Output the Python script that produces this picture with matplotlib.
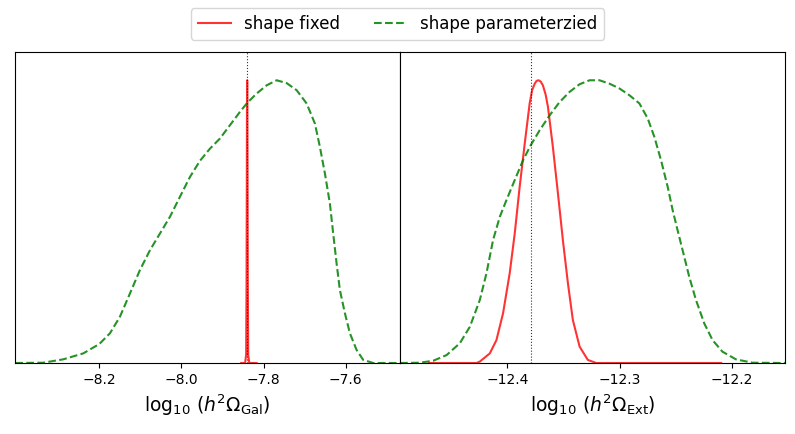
import numpy as np
import matplotlib
matplotlib.use('Agg')
import matplotlib.pyplot as plt

# Normalised posterior densities (peak = 1)
# Galactic foreground amplitude
gal_fixed_x = [-7.8545, -7.8450, -7.8425, -7.8415, -7.8405, -7.8400,
               -7.8395, -7.8385, -7.8375, -7.8350, -7.8170]
gal_fixed_y = [0.0, 0.0, 0.03, 0.3, 0.9, 1.0, 0.9, 0.3, 0.03, 0.0, 0.0]

gal_param_x = [-8.4044, -8.3363, -8.2876, -8.2389, -8.2000, -8.1740, -8.1496,
               -8.1253, -8.1010, -8.0766, -8.0523, -8.0280, -8.0036, -7.9793,
               -7.9550, -7.9307, -7.9063, -7.8820, -7.8577, -7.8400, -7.8170,
               -7.7927, -7.7684, -7.7440, -7.7197, -7.6954, -7.6752, -7.6630,
               -7.6508, -7.6387, -7.6307, -7.6224, -7.6144, -7.6022, -7.5900,
               -7.5737, -7.5577, -7.5333, -7.4684]
gal_param_y = [0.0, 0.001, 0.013, 0.034, 0.067, 0.105, 0.164, 0.246, 0.329,
               0.399, 0.458, 0.517, 0.588, 0.658, 0.715, 0.758, 0.794, 0.841,
               0.888, 0.920, 0.953, 0.982, 1.0, 0.990, 0.965, 0.918, 0.847,
               0.764, 0.670, 0.564, 0.458, 0.352, 0.258, 0.176, 0.105, 0.046,
               0.011, 0.0, 0.0]

# Extragalactic background amplitude
ext_fixed_x = [-12.470, -12.4276, -12.4246, -12.4157, -12.4098, -12.4039,
               -12.3980, -12.3935, -12.3891, -12.3846, -12.3802, -12.3780,
               -12.3757, -12.3740, -12.3722, -12.3703, -12.3684, -12.3660,
               -12.3639, -12.3595, -12.3550, -12.3506, -12.3461, -12.3417,
               -12.3357, -12.3284, -12.3209, -12.2095]
ext_fixed_y = [0.0, 0.0, 0.005, 0.034, 0.081, 0.176, 0.317, 0.458, 0.623,
               0.776, 0.918, 0.965, 0.988, 0.998, 1.0, 0.995, 0.982, 0.950,
               0.906, 0.764, 0.600, 0.435, 0.282, 0.152, 0.058, 0.011, 0.0,
               0.0]

ext_param_x = [-12.4957, -12.4780, -12.4661, -12.4542, -12.4424, -12.4335,
               -12.4246, -12.4187, -12.4128, -12.4068, -12.4009, -12.3935,
               -12.3861, -12.3793, -12.3713, -12.3624, -12.3535, -12.3446,
               -12.3357, -12.3268, -12.3180, -12.3091, -12.3002, -12.2913,
               -12.2824, -12.2750, -12.2691, -12.2631, -12.2572, -12.2528,
               -12.2484, -12.2439, -12.2380, -12.2320, -12.2246, -12.2172,
               -12.2084, -12.1964, -12.1817, -12.1526]
ext_param_y = [0.0, 0.001, 0.008, 0.028, 0.070, 0.128, 0.223, 0.317, 0.435,
               0.517, 0.576, 0.647, 0.717, 0.770, 0.823, 0.876, 0.923, 0.959,
               0.986, 1.0, 1.0, 0.988, 0.971, 0.947, 0.918, 0.865, 0.800,
               0.717, 0.623, 0.541, 0.470, 0.399, 0.305, 0.223, 0.140, 0.081,
               0.040, 0.013, 0.001, 0.0]

gal_truth = -7.840
ext_truth = -12.379

gal_ticks = [-8.2, -8.0, -7.8, -7.6]
ext_ticks = [-12.4, -12.3, -12.2]

fig = plt.figure(figsize=(7.95, 4.34), dpi=100)
w = 0.4843
ax1 = fig.add_axes([0.0189, 0.1636, w, 0.7166])
ax2 = fig.add_axes([0.0189 + w, 0.1636, w, 0.7166])

red_kw = dict(color='red', alpha=0.8, lw=1.5)
green_kw = dict(color='green', alpha=0.85, lw=1.5, ls='--')
truth_kw = dict(color='k', lw=0.8, ls=':', alpha=0.8)

ax1.plot(gal_fixed_x, gal_fixed_y, label='shape fixed', **red_kw)
ax1.plot(gal_param_x, gal_param_y, label='shape parameterzied', **green_kw)
ax1.axvline(gal_truth, **truth_kw)
ax1.set_xlim(-8.405, -7.468)
ax1.set_xticks(gal_ticks)
ax1.set_xlabel(r'$\log_{10}\,(h^2\Omega_{\rm Gal})$', fontsize=13.5)

ax2.plot(ext_fixed_x, ext_fixed_y, **red_kw)
ax2.plot(ext_param_x, ext_param_y, **green_kw)
ax2.axvline(ext_truth, **truth_kw)
ax2.set_xlim(-12.4957, -12.1526)
ax2.set_xticks(ext_ticks)
ax2.set_xlabel(r'$\log_{10}\,(h^2\Omega_{\rm Ext})$', fontsize=13.5)

for ax in (ax1, ax2):
    ax.set_ylim(0, 1.1)
    ax.set_yticks([])
    ax.tick_params(axis='x', labelsize=10)

fig.legend(loc='upper center', bbox_to_anchor=(0.5, 1.0), ncol=2,
           fontsize=12, frameon=True)

fig.savefig('out.png', dpi=100)
